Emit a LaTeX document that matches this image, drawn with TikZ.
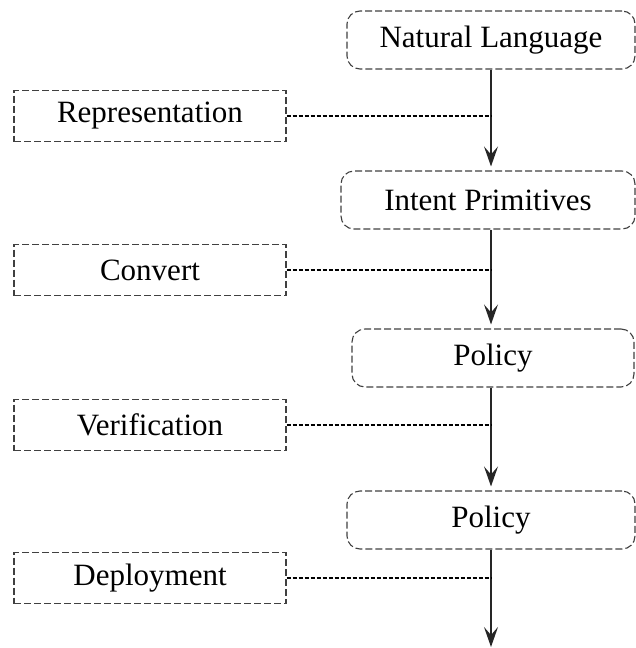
\documentclass[tikz,border=0pt]{standalone}
\usepackage{fontspec}
\setmainfont{Liberation Serif}
\usetikzlibrary{arrows.meta}
\begin{document}
\begin{tikzpicture}[x=1pt,y=-1pt,
  rbox/.style={draw=black!75, line width=1.1pt, dash pattern=on 7pt off 3pt,
    rounded corners=13pt, minimum height=58pt, inner sep=0pt,
    font=\fontsize{31}{35}\selectfont},
  lbox/.style={draw=black!75, line width=1.1pt, dash pattern=on 7pt off 3pt,
    minimum width=272pt, minimum height=51pt, inner sep=0pt,
    font=\fontsize{31}{35}\selectfont},
  flow/.style={draw=black!85, line width=1.4pt,
    -{Stealth[length=20pt,width=14pt,inset=8pt]}, shorten >=4pt},
  link/.style={draw=black, line width=1.8pt, dash pattern=on 4pt off 2pt}]
\useasboundingbox (0,0) rectangle (636,648);
\node[rbox, minimum width=288pt] (nl) at (491,40) {Natural Language};
\node[rbox, minimum width=294pt] (ip) at (488,200) {Intent Primitives};
\node[rbox, minimum width=282pt] (p1) at (493,358) {Policy};
\node[rbox, minimum width=288pt] (p2) at (491,520) {Policy};
\coordinate (end) at (491,648);
\node[lbox] (rep) at (150,116) {Representation};
\node[lbox] (con) at (150,270) {Convert};
\node[lbox] (ver) at (150,425) {Verification};
\node[lbox] (dep) at (150,578) {Deployment};
\draw[flow] (nl.south -| 491,0) -- (ip.north -| 491,0);
\draw[flow] (ip.south -| 491,0) -- (p1.north -| 491,0);
\draw[flow] (p1.south -| 491,0) -- (p2.north -| 491,0);
\draw[flow, shorten >=1pt] (p2.south -| 491,0) -- (end);
\draw[link] (rep.east) -- (rep.east -| end);
\draw[link] (con.east) -- (con.east -| end);
\draw[link] (ver.east) -- (ver.east -| end);
\draw[link] (dep.east) -- (dep.east -| end);
\end{tikzpicture}
\end{document}
